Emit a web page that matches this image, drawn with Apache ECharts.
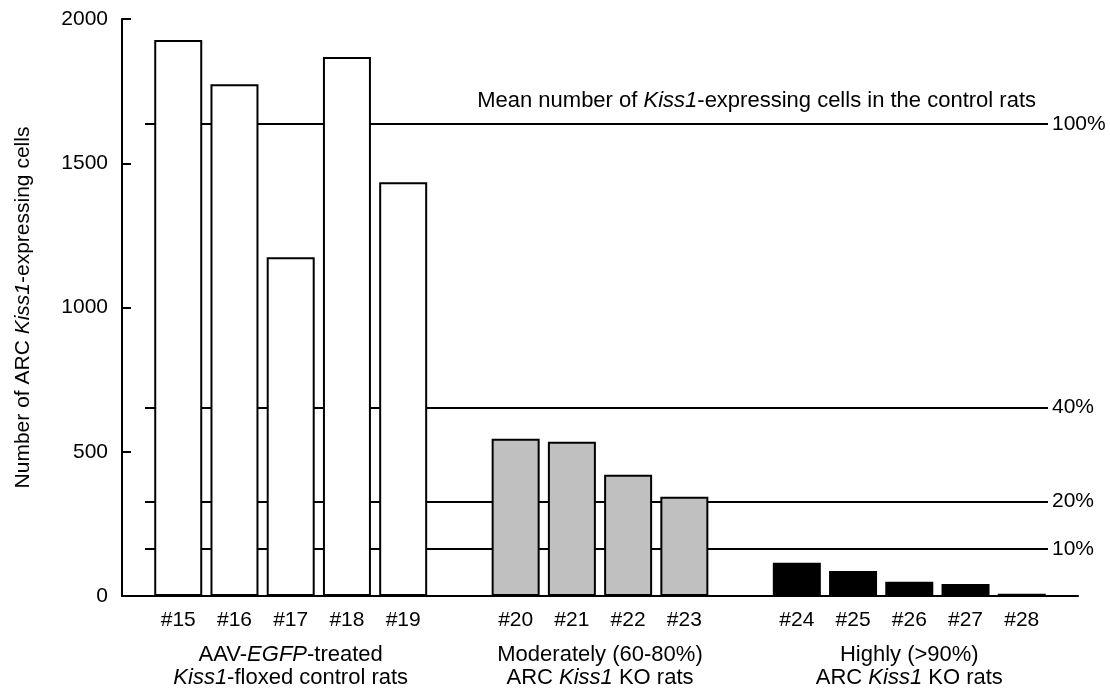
<!DOCTYPE html>
<html>
<head>
<meta charset="utf-8">
<script src="https://cdn.jsdelivr.net/npm/echarts@6/dist/echarts.min.js"></script>
<style>
  html, body { margin: 0; padding: 0; background: #fff; }
  #chart { width: 1110px; height: 691px; }
</style>
</head>
<body>
<div id="chart"></div>
<script>
// ---- data ----
const controlCats = ['#15', '#16', '#17', '#18', '#19'];
const controlVals = [1927, 1774, 1174, 1868, 1434];
const moderateCats = ['#20', '#21', '#22', '#23'];
const moderateVals = [545, 535, 420, 344];
const highCats = ['#24', '#25', '#26', '#27', '#28'];
const highVals = [115, 87, 49, 42, 8];
const percentLevels = [100, 40, 20, 10];
const yTicks = [0, 500, 1000, 1500, 2000];

// ---- build ----
const FONT = 'Liberation Sans, Arial, sans-serif';
const categories = [''].concat(controlCats, [''], moderateCats, [''], highCats, ['']);
function seriesData(cats, vals) {
  return categories.map(c => {
    const i = cats.indexOf(c);
    return i >= 0 ? vals[i] : null;
  });
}
const meanCtrl = controlVals.reduce((a, b) => a + b, 0) / controlVals.length;

const markLines = percentLevels.map(p => {
  const v = meanCtrl * p / 100;
  return [
    { x: 145, yAxis: v, label: { formatter: p + '%' } },
    { x: 1048, yAxis: v }
  ];
});

const chart = echarts.init(document.getElementById('chart'));
const barBase = {
  type: 'bar',
  barWidth: 48,
  barGap: '-100%',
  silent: true
};
chart.setOption({
  animation: false,
  backgroundColor: '#fff',
  textStyle: { fontFamily: FONT },
  grid: { left: 122, right: 32, top: 19, bottom: 95 },
  xAxis: {
    type: 'category',
    data: categories,
    boundaryGap: false,
    axisLine: { lineStyle: { color: '#000', width: 2 } },
    axisTick: { show: false },
    axisLabel: { color: '#000', fontSize: 21, margin: 14, fontFamily: FONT, interval: 0 },
    splitLine: { show: false }
  },
  yAxis: {
    type: 'value',
    min: yTicks[0],
    max: yTicks[yTicks.length - 1],
    interval: 500,
    axisLine: { show: true, lineStyle: { color: '#000', width: 2 } },
    axisTick: { show: true, inside: true, length: 9, lineStyle: { color: '#000', width: 2 } },
    axisLabel: { color: '#000', fontSize: 21, margin: 14, fontFamily: FONT, formatter: v => String(v) },
    splitLine: { show: false },
    name: '{n|Number of ARC }{i|Kiss1}{n|-expressing cells}',
    nameLocation: 'middle',
    nameRotate: 90,
    nameGap: 88,
    nameTextStyle: {
      rich: {
        n: { fontSize: 21, color: '#000', fontFamily: FONT },
        i: { fontSize: 21, color: '#000', fontFamily: FONT, fontStyle: 'italic' }
      }
    }
  },
  series: [
    Object.assign({}, barBase, {
      name: 'control',
      data: seriesData(controlCats, controlVals),
      itemStyle: { color: '#fff', borderColor: '#000', borderWidth: 2 },
      z: 3,
      markLine: {
        silent: true,
        z: 1,
        symbol: 'none',
        lineStyle: { color: '#000', width: 2, type: 'solid' },
        label: { show: true, position: 'end', distance: 4, color: '#000', fontSize: 21, fontFamily: FONT },
        emphasis: { disabled: true },
        data: markLines
      }
    }),
    Object.assign({}, barBase, {
      name: 'moderate',
      data: seriesData(moderateCats, moderateVals),
      itemStyle: { color: '#c0c0c0', borderColor: '#000', borderWidth: 2 },
      z: 3
    }),
    Object.assign({}, barBase, {
      name: 'high',
      data: seriesData(highCats, highVals),
      itemStyle: { color: '#000', borderColor: '#000', borderWidth: 2 },
      z: 3
    })
  ]
});

// ---- annotations placed via the chart's scales ----
const px = (cat) => chart.convertToPixel({ xAxisIndex: 0 }, cat);
const py = (v) => chart.convertToPixel({ yAxisIndex: 0 }, v);
const groupRich = {
  n: { fontSize: 22, color: '#000', fontFamily: FONT, lineHeight: 23 },
  i: { fontSize: 22, color: '#000', fontFamily: FONT, fontStyle: 'italic', lineHeight: 23 }
};
const groupY = py(0) + 47;
const groupLabels = [
  { x: px('#17'), text: '{n|AAV-}{i|EGFP}{n|-treated}\n{i|Kiss1}{n|-floxed control rats}' },
  { x: (px('#21') + px('#22')) / 2, text: '{n|Moderately (60-80%)}\n{n|ARC }{i|Kiss1}{n| KO rats}' },
  { x: px('#26'), text: '{n|Highly (>90%)}\n{n|ARC }{i|Kiss1}{n| KO rats}' }
];
const graphics = groupLabels.map(g => ({
  type: 'text',
  x: g.x,
  y: groupY,
  silent: true,
  style: { text: g.text, rich: groupRich, align: 'center', verticalAlign: 'top', fill: '#000' }
}));
graphics.push({
  type: 'text',
  x: 1036,
  y: py(meanCtrl) - 12,
  silent: true,
  style: {
    text: '{n|Mean number of }{i|Kiss1}{n|-expressing cells in the control rats}',
    rich: groupRich,
    align: 'right',
    verticalAlign: 'bottom',
    fill: '#000'
  }
});
chart.setOption({ graphic: graphics });
</script>
</body>
</html>
